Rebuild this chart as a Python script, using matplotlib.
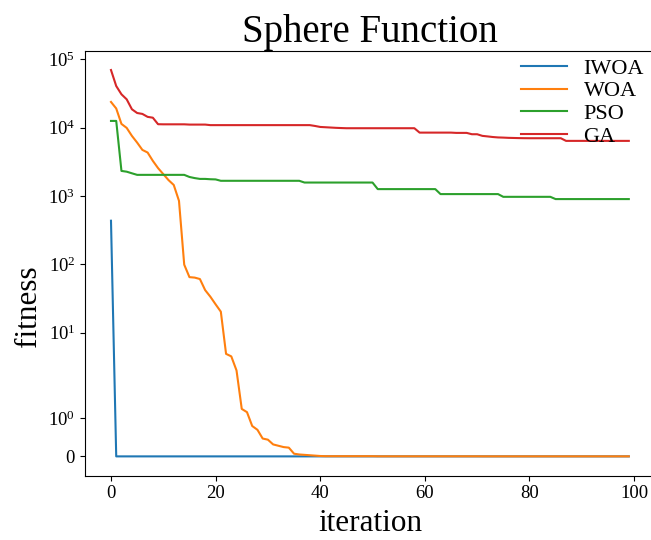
import numpy as np
import matplotlib
matplotlib.use("Agg")
import matplotlib.pyplot as plt

plt.rcParams['font.family'] = ['Liberation Serif', 'DejaVu Serif']
plt.rcParams['mathtext.fontset'] = 'stix'

iterations = list(range(100))

iwoa = [435] + [0] * 99

woa = [23800, 19100, 11350, 9930, 7580, 6050, 4730, 4330, 3270, 2560,
       2090, 1710, 1450, 850, 99, 65, 64, 61, 42, 33.6,
       26, 20.3, 4.9, 4.5, 2.8, 1.25, 1.165, 0.80, 0.70, 0.47,
       0.44, 0.315, 0.28, 0.245, 0.23, 0.07, 0.05, 0.04, 0.03, 0.02,
       0.01] + [0.005] * 10 + [0.002] * 20 + [0.001] * 29

pso = ([12560, 12560, 2330, 2270, 2150] + [2040] * 10 +
       [1900, 1830, 1780, 1780, 1760, 1750] + [1670] * 16 +
       [1575] * 14 + [1262] * 12 + [1067] * 12 + [973] * 10 + [902] * 15)

ga = ([69800, 40700, 30800, 26000, 18600, 16400, 15900, 14400, 14000, 11240] +
      [11200] * 5 + [11100] * 4 + [10900] * 20 +
      [10600, 10250, 10150, 10050, 9950, 9880] + [9820] * 14 +
      [8470] * 7 + [8390] * 3 + [8020] * 2 +
      [7590, 7450, 7300, 7200, 7160, 7100, 7070, 7040, 7020] +
      [7010] * 7 + [6410] * 13)

series = [("IWOA", iwoa), ("WOA", woa), ("PSO", pso), ("GA", ga)]

fig = plt.figure(figsize=(6.51, 5.40), dpi=100)
ax = fig.add_axes([85.1 / 651, (540 - 475.7) / 540, 569.6 / 651, 425 / 540])

for name, vals in series:
    ax.plot(iterations, vals, label=name, linewidth=1.5)

ax.set_yscale('symlog', linthresh=2)
ax.set_yticks([0, 1, 10, 100, 1000, 10000, 100000])
ax.set_xticks([0, 20, 40, 60, 80, 100])
ax.tick_params(labelsize=13.5)
ax.spines['right'].set_visible(False)

ax.set_title("Sphere Function", fontsize=28, pad=4)
ax.set_xlabel("iteration", fontsize=22.5, labelpad=5)
ax.set_ylabel("fitness", fontsize=22.5)
ax.yaxis.set_label_coords(-0.0735, 0.40)

ax.legend(loc='upper right', frameon=False, fontsize=16, labelspacing=0.1,
          handlelength=2.05, handletextpad=0.75, borderaxespad=0.0,
          borderpad=0.2, bbox_to_anchor=(0.989, 0.993))

fig.savefig("out.png", dpi=100)
